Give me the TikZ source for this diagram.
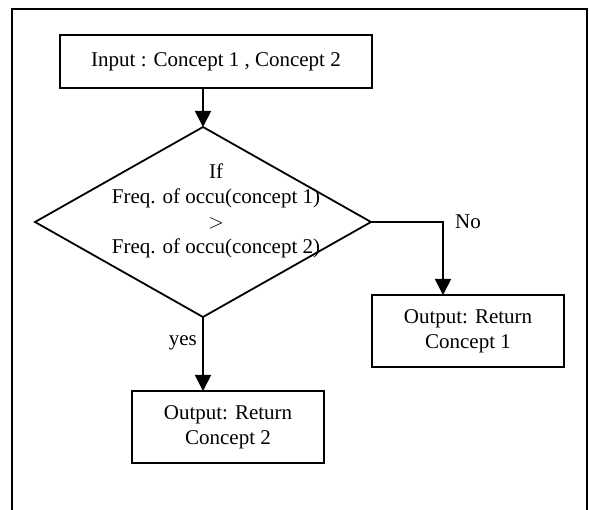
\documentclass[tikz,border=0pt]{standalone}
\usepackage{fontspec}
\setmainfont{Liberation Serif}
\usetikzlibrary{shapes.geometric,arrows.meta}

\tikzset{
  box/.style={draw, line width=1.8pt, minimum width=192pt, minimum height=72pt,
    inner sep=0pt, outer sep=0pt, align=center, font=\fontsize{21}{25}\selectfont},
  decision/.style={draw, diamond, line width=1.8pt, minimum width=336pt,
    minimum height=190pt, inner sep=0pt, outer sep=0pt},
  flow/.style={line width=1.8pt, -{Triangle[length=16pt,width=16pt]}},
  lbl/.style={font=\fontsize{21}{25}\selectfont, inner sep=0pt}
}

\begin{document}
\begin{tikzpicture}[x=1pt, y=-1pt]
  \useasboundingbox (0,0) rectangle (589,510);

  % surrounding frame, open at the bottom
  \draw[line width=2pt] (12,515) -- (12,9) -- (587,9) -- (587,515);

  % boxes and decision
  \node[box, minimum width=312pt, minimum height=53pt] (in) at (216,61.5)
    {Input : Concept 1 , Concept 2};
  \node[decision] (dia) at (203,222) {};
  \node[lbl, align=center, font=\fontsize{21}{25.2}\selectfont] (cond) at (216,211)
    {If\\Freq. of occu(concept 1)\\$>$\\Freq. of occu(concept 2)};
  \node[box] (c1) at (468,331) {Output: Return\\Concept 1};
  \node[box] (c2) at (228,427) {Output: Return\\Concept 2};

  % connectors
  \draw[flow] (dia.north |- in.south) -- (dia.north);
  \coordinate (nocorner) at (443,222);
  \draw[flow] (dia.east) -- (nocorner) -- (nocorner |- c1.north);
  \draw[flow] (dia.south) -- (dia.south |- c2.north);

  % branch labels
  \node[lbl, anchor=west] (no) at (455,222) {No};
  \node[lbl, anchor=east] (yes) at (197,343) {yes};
\end{tikzpicture}
\end{document}
